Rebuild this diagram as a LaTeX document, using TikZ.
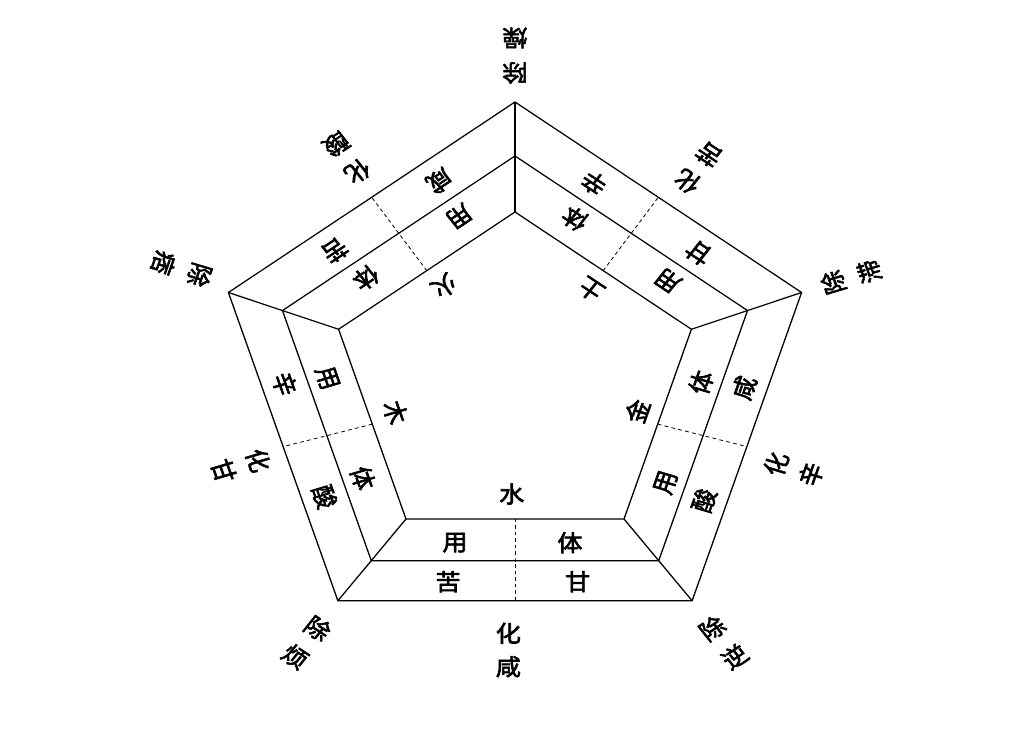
\documentclass[tikz,border=0pt]{standalone}
\usepackage{fontspec}
\setmainfont{Noto Sans CJK SC}[FakeBold=2.5]
\usetikzlibrary{calc}
\begin{document}
\begin{tikzpicture}[x=1pt,y=1pt,
  lbl/.style={font=\fontsize{23}{23}\selectfont, inner sep=0pt},
  edgeline/.style={line width=1.2pt, line join=miter},
  dashline/.style={dash pattern=on 3.5pt off 3pt, line width=0.8pt}]
\fill[white] (-515,-355) rectangle (520,380);
\useasboundingbox (-515,-355) rectangle (520,380);
\begin{scope}[transform canvas={xscale=1.093}]
  % pentagon vertices: 0 top, 1 left, 2 bottom-left, 3 bottom-right, 4 right
  \foreach \k in {0,...,4} {
    \pgfmathsetmacro\a{90+72*\k}
    \coordinate (O\k) at ({275.7*cos(\a)},{2.3+275.7*sin(\a)});
    \coordinate (M\k) at ({223.7*cos(\a)},{0.3+223.7*sin(\a)});
    \coordinate (I\k) at ({169.7*cos(\a)},{-1.7+169.7*sin(\a)});
  }
  \draw[edgeline] (O0)--(O1)--(O2)--(O3)--(O4)--cycle;
  \draw[edgeline] (M0)--(M1)--(M2)--(M3)--(M4)--cycle;
  \draw[edgeline] (I0)--(I1)--(I2)--(I3)--(I4)--cycle;
  \foreach \k in {0,...,4} {
    \draw[edgeline] (O\k)--(M\k)--(I\k);
  }
  \foreach \k/\j in {0/1,1/2,2/3,3/4,4/0} {
    \coordinate (om\k) at ($(O\k)!0.5!(O\j)$);
    \coordinate (mm\k) at ($(M\k)!0.5!(M\j)$);
    \coordinate (im\k) at ($(I\k)!0.5!(I\j)$);
    \draw[dashline] (im\k)--(mm\k)--(om\k);
  }
  % side texts
  \foreach \t/\ua/\ub/\el/\hb/\ex/\ey/\hx/\hy in {0/苦/甘/水/咸/0/0/0/0, 72/酸/咸/金/辛/8/-2/0/0, 144/甘/辛/土/苦/0/0/-5/0, 216/咸/苦/火/酸/0/0/0/0, 288/辛/酸/木/甘/0/0/10/5} {
    \begin{scope}[rotate=\t]
      \node[lbl, rotate=\t] (yong\t) at (-54.9,-162.7) {用};
      \node[lbl, rotate=\t] (ti\t) at (50.3,-162.7) {体};
      \node[lbl, rotate=\t] (fa\t) at (-61.2,-201.7) {\ua};
      \node[lbl, rotate=\t] (fb\t) at (57.3,-201.7) {\ub};
      \node[lbl, rotate=\t] (el\t) at ({-3+\ex},{-114+\ey}) {\el};
      \node[lbl, rotate=\t] (hua\t) at ({-6.1+\hx},{-253.3+\hy}) {化};
      \node[lbl, rotate=\t] (hx\t) at ({-6.1+\hx},{-286.7+\hy}) {\hb};
    \end{scope}
  }
  % vertex labels
  \foreach \p/\q/\c in {90/90/燥, 160/162/痞, 234/234/烦, 306/306/逆, 18.5/18/滞} {
    \pgfmathsetmacro\rr{\q+90}
    \node[lbl, rotate=\rr] (chu\q) at (\p:307) {除};
    \node[lbl, rotate=\rr] (vx\q) at (\p:342) {\c};
  }
\end{scope}
\end{tikzpicture}
\end{document}
